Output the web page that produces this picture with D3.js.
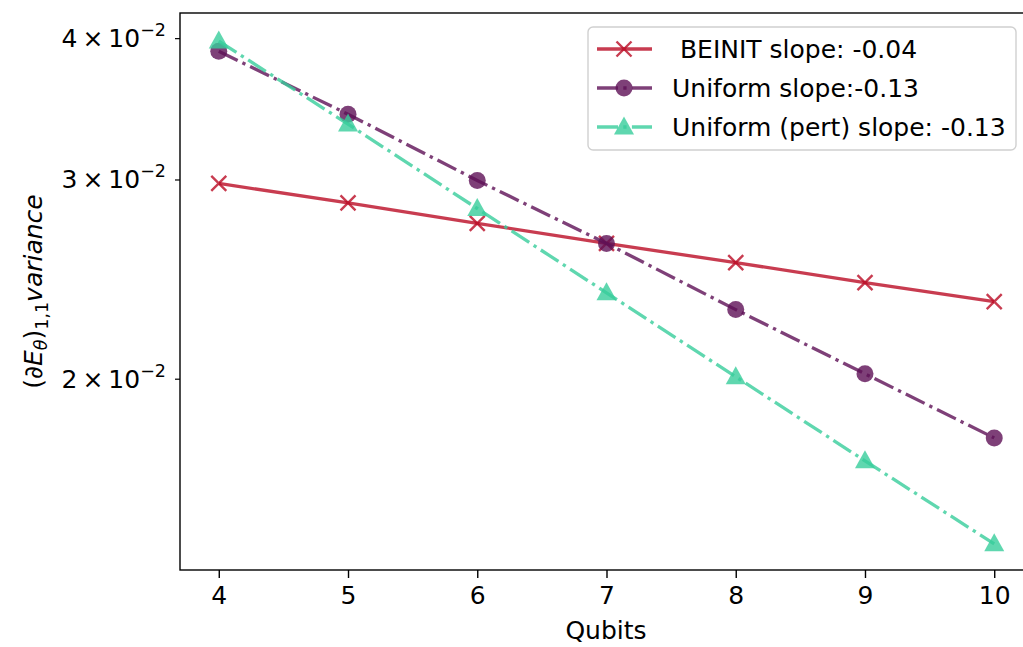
<!DOCTYPE html>
<html>
<head>
<meta charset="utf-8">
<script src="https://cdn.jsdelivr.net/npm/d3@7"></script>
<style>
  body { margin: 0; background: #fff; }
  svg { font-family: "DejaVu Sans", sans-serif; }
</style>
</head>
<body>
<div id="chart"></div>
<script>
// data
const qubits = [4, 5, 6, 7, 8, 9, 10];
const beinit = [0.02976, 0.0286, 0.02744, 0.02634, 0.02533, 0.02432, 0.0234];
const uniform = [0.03895, 0.03426, 0.02994, 0.02634, 0.02302, 0.0202, 0.01773];
const uniformPert = [0.03976, 0.03358, 0.02828, 0.02382, 0.02008, 0.01692, 0.01429];
const yTicks = [0.02, 0.03, 0.04];
const yTickLabels = ["2", "3", "4"];
const labels = [" BEINIT slope: -0.04", "Uniform slope:-0.13", "Uniform (pert) slope: -0.13"];

const W = 1023, H = 647;
const plotLeft = 180, plotRight = 1033, plotTop = 13, plotBottom = 570;

const svg = d3.select("#chart").append("svg")
  .attr("width", W).attr("height", H);

const x = d3.scaleLinear().domain([3.7, 10.3]).range([plotLeft, plotRight]);
const y = d3.scaleLog().domain([0.01355, 0.0421]).range([plotBottom, plotTop]);

const series = [
  { name: labels[0], values: beinit, color: "#ba0b24", dash: null, marker: "x" },
  { name: labels[1], values: uniform, color: "#5e1056", dash: "21,5.3,3.3,5.3", marker: "o" },
  { name: labels[2], values: uniformPert, color: "#37cd9b", dash: "21,5.3,3.3,5.3", marker: "^" }
];

const fs = 25;

// frame
svg.append("rect")
  .attr("x", plotLeft).attr("y", plotTop)
  .attr("width", plotRight - plotLeft).attr("height", plotBottom - plotTop)
  .attr("fill", "none").attr("stroke", "#000").attr("stroke-width", 1.4);

// x axis
const xAxis = svg.append("g").attr("transform", `translate(0,${plotBottom})`)
  .call(d3.axisBottom(x).tickValues(qubits).tickFormat(d3.format("d")).tickSize(8).tickPadding(8));
xAxis.select(".domain").remove();
xAxis.selectAll("line").attr("stroke-width", 1.4);
xAxis.selectAll("text").attr("font-size", fs).attr("font-family", "DejaVu Sans").attr("fill", "#000");

svg.append("text")
  .attr("x", (218 + 994) / 2).attr("y", 639)
  .attr("text-anchor", "middle").attr("font-size", fs)
  .text("Qubits");

// y axis (log, only minor ticks labelled)
const yAxis = svg.append("g").attr("transform", `translate(${plotLeft},0)`)
  .call(d3.axisLeft(y).tickValues(yTicks).tickFormat("").tickSize(5));
yAxis.select(".domain").remove();
yAxis.selectAll("line").attr("stroke-width", 1.2);

yTicks.forEach((v, i) => {
  const t = svg.append("text")
    .attr("x", 166).attr("y", y(v) + 9)
    .attr("text-anchor", "end").attr("font-size", fs);
  t.append("tspan").text(yTickLabels[i] + "\u2009\u00d7\u200910");
  t.append("tspan").attr("font-size", fs * 0.7).attr("dy", -11).text("\u22122");
});

// y label
const yl = svg.append("text")
  .attr("transform", `translate(42,${(plotTop + plotBottom) / 2}) rotate(-90)`)
  .attr("text-anchor", "middle").attr("font-size", fs);
yl.append("tspan").text("(\u2202");
yl.append("tspan").attr("font-style", "italic").text("E");
yl.append("tspan").attr("font-style", "italic").attr("font-size", fs * 0.7).attr("dy", 5).text("\u03b8");
yl.append("tspan").attr("dy", -5).text(")");
yl.append("tspan").attr("font-size", fs * 0.7).attr("dy", 6).text("1,1");
yl.append("tspan").attr("font-style", "italic").attr("dy", -6).text("variance");

const line = d3.line().x((d, i) => x(qubits[i])).y(d => y(d));

function drawMarker(g, type, cx, cy, color) {
  if (type === "x") {
    const s = 7.5;
    g.append("path")
      .attr("d", `M${cx - s},${cy - s}L${cx + s},${cy + s}M${cx - s},${cy + s}L${cx + s},${cy - s}`)
      .attr("stroke", color).attr("stroke-width", 2.4).attr("stroke-opacity", 0.8).attr("fill", "none");
  } else if (type === "o") {
    g.append("circle").attr("cx", cx).attr("cy", cy).attr("r", 8.5)
      .attr("fill", color).attr("fill-opacity", 0.8);
  } else {
    const s = 10;
    g.append("path")
      .attr("d", `M${cx},${cy - s * 1.05}L${cx + s},${cy + s * 0.75}L${cx - s},${cy + s * 0.75}Z`)
      .attr("fill", color).attr("fill-opacity", 0.8);
  }
}

const plot = svg.append("g");
series.forEach(s => {
  plot.append("path")
    .datum(s.values)
    .attr("d", line)
    .attr("fill", "none")
    .attr("stroke", s.color)
    .attr("stroke-opacity", 0.8)
    .attr("stroke-width", 3.3)
    .attr("stroke-dasharray", s.dash);
  s.values.forEach((v, i) => drawMarker(plot, s.marker, x(qubits[i]), y(v), s.color));
});

// legend
const lg = svg.append("g");
lg.append("rect")
  .attr("x", 588).attr("y", 27).attr("width", 428).attr("height", 123)
  .attr("rx", 5).attr("fill", "#fff").attr("fill-opacity", 0.8)
  .attr("stroke", "#d0d0d0").attr("stroke-width", 1.4);

series.forEach((s, i) => {
  const ly = 49 + i * 39;
  lg.append("line")
    .attr("x1", 597).attr("x2", 652).attr("y1", ly).attr("y2", ly)
    .attr("stroke", s.color).attr("stroke-opacity", 0.8).attr("stroke-width", 3.3)
    .attr("stroke-dasharray", s.dash);
  drawMarker(lg, s.marker, 624, ly, s.color);
  lg.append("text")
    .attr("x", 672).attr("y", ly + 9)
    .attr("font-size", fs)
    .style("white-space", "pre")
    .text(s.name);
});
</script>
</body>
</html>
